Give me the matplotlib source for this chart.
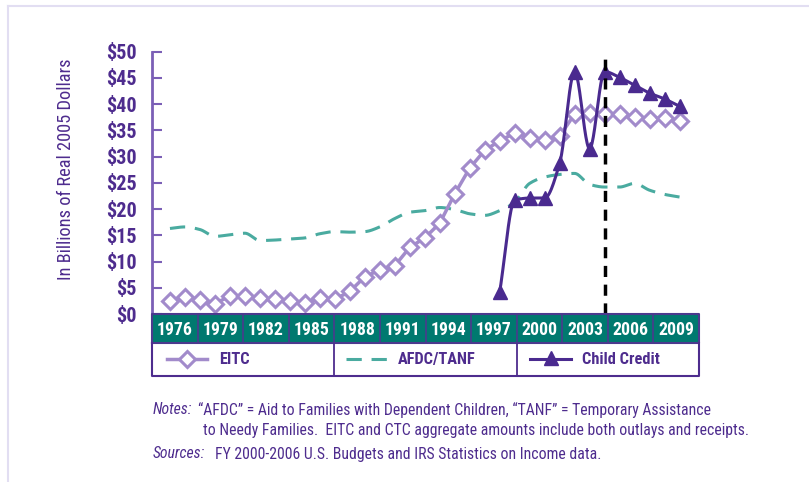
import numpy as np
import matplotlib
matplotlib.use("Agg")
import matplotlib.pyplot as plt
from matplotlib.lines import Line2D
from matplotlib.patches import Rectangle

FONT = ['Roboto Condensed', 'Liberation Sans', 'DejaVu Sans']
plt.rcParams['font.family'] = FONT

# ---------------- data ----------------
years = list(range(1976, 2011))
eitc = [2.5, 3.3, 2.7, 2.0, 3.4, 3.4, 3.0, 2.8, 2.5, 2.1, 3.0, 2.8, 4.3, 7.1, 8.4, 9.2,
        12.7, 14.5, 17.3, 22.9, 27.8, 31.2, 33.0, 34.5, 33.6, 33.1, 33.9, 38.1, 38.4, 38.2,
        38.1, 37.5, 37.2, 37.3, 36.8]
afdc = [16.3, 16.6, 16.1, 14.8, 15.1, 15.4, 14.0, 14.1, 14.3, 14.5, 15.3, 15.7, 15.6, 15.7,
        16.6, 18.2, 19.4, 19.7, 20.3, 19.9, 19.1, 18.8, 19.7, 21.3, 24.9, 26.1, 26.6, 26.8,
        24.7, 24.2, 24.2, 24.9, 23.6, 22.8, 22.3]
ctc_years = list(range(1998, 2011))
ctc = [4.2, 21.7, 22.1, 22.1, 28.7, 46.2, 31.5, 46.2, 45.1, 43.6, 42.1, 41.0, 39.6]
ref_year = 2005
yticks = [0, 5, 10, 15, 20, 25, 30, 35, 40, 45, 50]
ytick_labels = [r'\$0', r'\$5', r'\$10', r'\$15', r'\$20', r'\$25', r'\$30', r'\$35',
                r'\$40', r'\$45', r'\$50']
band_labels = ['1976', '1979', '1982', '1985', '1988', '1991', '1994', '1997',
               '2000', '2003', '2006', '2009']
series_names = ['EITC', 'AFDC/TANF', 'Child Credit']
ylabel = 'In Billions of Real 2005 Dollars'
note1 = '\u201cAFDC\u201d = Aid to Families with Dependent Children, \u201cTANF\u201d = Temporary Assistance'
note2 = 'to Needy Families.  EITC and CTC aggregate amounts include both outlays and receipts.'
source = 'FY 2000-2006 U.S. Budgets and IRS Statistics on Income data.'

# ---------------- style ----------------
C_TEXT = '#4E2C8E'
C_EITC = '#A28BCB'
C_AFDC = '#4AABA0'
C_CTC = '#4A2A8F'
C_BAND = '#00796F'
C_SPINE = '#7B5FB6'
C_FRAME = '#E2DEF2'

W, H = 809, 482


def pchip(x, y, n=24):
    """Monotone cubic (Fritsch-Carlson) curve through the given points."""
    x = np.asarray(x, float)
    y = np.asarray(y, float)
    h = np.diff(x)
    d = np.diff(y) / h
    m = np.zeros_like(y)
    m[0], m[-1] = d[0], d[-1]
    for k in range(1, len(y) - 1):
        if d[k - 1] * d[k] > 0:
            w1 = 2 * h[k] + h[k - 1]
            w2 = h[k] + 2 * h[k - 1]
            m[k] = (w1 + w2) / (w1 / d[k - 1] + w2 / d[k])
    xs, ys = [], []
    t = np.linspace(0, 1, n, endpoint=False)
    for k in range(len(x) - 1):
        h00 = 2 * t ** 3 - 3 * t ** 2 + 1
        h10 = t ** 3 - 2 * t ** 2 + t
        h01 = -2 * t ** 3 + 3 * t ** 2
        h11 = t ** 3 - t ** 2
        xs.append(x[k] + t * h[k])
        ys.append(h00 * y[k] + h10 * h[k] * m[k] + h01 * y[k + 1] + h11 * h[k] * m[k + 1])
    xs.append([x[-1]])
    ys.append([y[-1]])
    return np.concatenate(xs), np.concatenate(ys)


fig = plt.figure(figsize=(W / 100, H / 100), dpi=100)

# light frame lines
fig.add_artist(Line2D([8 / W, 1], [1 - 6 / H, 1 - 6 / H], color=C_FRAME, lw=1.5))
fig.add_artist(Line2D([8 / W, 8 / W], [0, 1 - 6 / H], color=C_FRAME, lw=1.5))

L, R = 152, 699
top, bot = 51.7, 314
ax = fig.add_axes([L / W, 1 - bot / H, (R - L) / W, (bot - top) / H])
ax.set_xlim(1974.8, 2011.3)
ax.set_ylim(0, 50)
for s in ['top', 'right', 'bottom']:
    ax.spines[s].set_visible(False)
ax.spines['left'].set_color(C_SPINE)
ax.spines['left'].set_linewidth(2)
ax.set_xticks([])
ax.set_yticks(yticks)
ax.set_yticklabels(ytick_labels, fontsize=14.5, fontweight='bold', color=C_TEXT)
ax.tick_params(axis='y', direction='in', length=7, width=1.5, color=C_SPINE, pad=11)
ax.set_ylabel(ylabel, fontsize=13.2, color=C_TEXT)
ax.yaxis.set_label_coords((75 - L) / (R - L), (bot - 169) / (bot - top))

xa, ya = pchip(years, afdc)
ax.plot(xa, ya, color=C_AFDC, lw=2.2, dashes=(5, 3.2), zorder=2)
ax.plot(years, eitc, color=C_EITC, lw=2.5, marker='D', markersize=8.5,
        markerfacecolor='white', markeredgecolor=C_EITC, markeredgewidth=2.2, zorder=3,
        clip_on=False)
xc, yc = pchip(ctc_years, ctc)
ax.plot(xc, yc, color=C_CTC, lw=2.2, zorder=4, clip_on=False)
ax.plot(ctc_years, ctc, ls='none', marker='^', markersize=10, color=C_CTC, zorder=5,
        clip_on=False)
ax.plot([ref_year, ref_year], [0, 49.4], color='black', lw=2.5, dashes=(3.2, 2.2), zorder=6)

# year band
bt, bb = 314, 342.7
bax = fig.add_axes([L / W, 1 - bb / H, (R - L) / W, (bb - bt) / H])
bax.set_xlim(0, len(band_labels))
bax.set_ylim(0, 1)
bax.axis('off')
bax.add_patch(Rectangle((0, 0), len(band_labels), 1, facecolor=C_BAND, edgecolor='none'))
for i, lab in enumerate(band_labels):
    bax.text(i + 0.5, 0.45, lab, ha='center', va='center', color='white', fontsize=12.8,
             fontweight='bold')
    if i > 0:
        bax.plot([i, i], [0, 1], color='#4B3A8E', lw=1.2)
bax.plot([0, len(band_labels), len(band_labels), 0, 0], [0, 0, 1, 1, 0], color='#4B3A8E',
         lw=1.5, clip_on=False)

# legend row
lb = 376
lax = fig.add_axes([L / W, 1 - lb / H, (R - L) / W, (lb - bb) / H])
lax.set_xlim(L, R)
lax.set_ylim(0, 1)
lax.axis('off')
lax.plot([L, L, R, R], [1, 0, 0, 1], color=C_TEXT, lw=1.5, clip_on=False)
for xd in (334.3, 516.7):
    lax.plot([xd, xd], [0, 1], color=C_TEXT, lw=1.3)
yl = 0.5
lfs = 11.8
lax.plot([167, 207], [yl, yl], color=C_EITC, lw=2.5)
lax.plot([187], [yl], marker='D', markersize=8.5, markerfacecolor='white',
         markeredgecolor=C_EITC, markeredgewidth=2.2)
lax.text(219, yl, series_names[0], ha='left', va='center', color=C_TEXT, fontsize=lfs,
         fontweight='bold')
lax.plot([346, 388], [yl, yl], color=C_AFDC, lw=2.2, dashes=(5, 3.2))
lax.text(398, yl, series_names[1], ha='left', va='center', color=C_TEXT, fontsize=lfs,
         fontweight='bold')
lax.plot([530, 571], [yl, yl], color=C_CTC, lw=2.2)
lax.plot([551], [yl + 0.04], marker='^', markersize=10, color=C_CTC)
lax.text(582, yl, series_names[2], ha='left', va='center', color=C_TEXT, fontsize=lfs,
         fontweight='bold')

# notes
fs = 11.3
fig.text(153 / W, 1 - 410 / H, 'Notes:', style='italic', color=C_TEXT, fontsize=fs,
         va='center')
fig.text(198 / W, 1 - 410 / H, note1, color=C_TEXT, fontsize=fs, va='center')
fig.text(203 / W, 1 - 430 / H, note2, color=C_TEXT, fontsize=fs, va='center')
fig.text(153 / W, 1 - 454 / H, 'Sources:', style='italic', color=C_TEXT, fontsize=fs,
         va='center')
fig.text(215 / W, 1 - 454 / H, source, color=C_TEXT, fontsize=fs, va='center')

fig.savefig('out.png', dpi=100)
